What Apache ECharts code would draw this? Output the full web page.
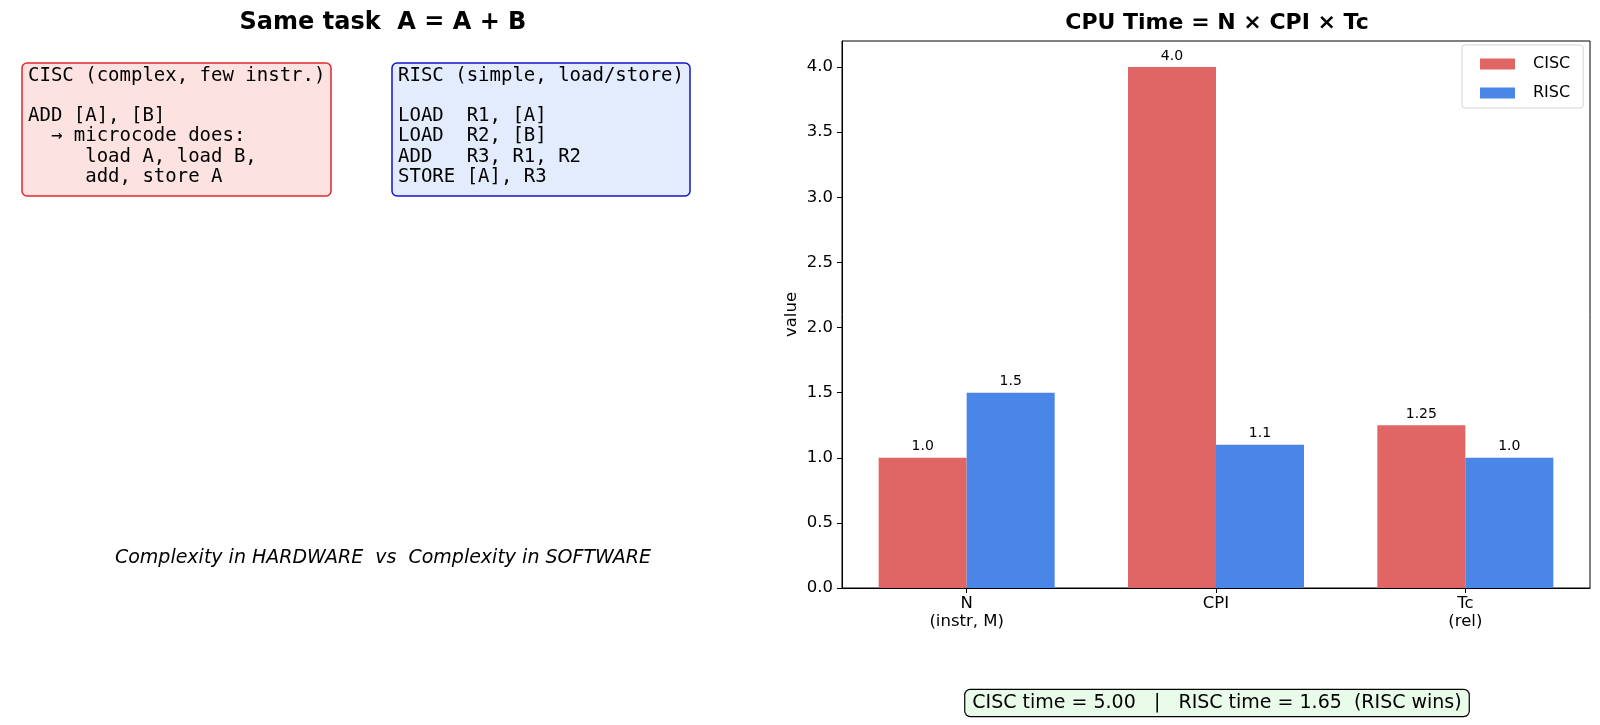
<!DOCTYPE html>
<html>
<head>
<meta charset="utf-8">
<script src="https://cdn.jsdelivr.net/npm/echarts@6/dist/echarts.min.js"></script>
<style>
  html, body { margin: 0; padding: 0; background: #fff; }
  #main { width: 1600px; height: 725px; }
</style>
</head>
<body>
<div id="main"></div>
<script>
const categories = ['N\n(instr, M)', 'CPI', 'Tc\n(rel)'];
const cisc = [1.0, 4.0, 1.25];
const risc = [1.5, 1.1, 1.0];
const yTicks = [0, 0.5, 1.0, 1.5, 2.0, 2.5, 3.0, 3.5, 4.0];

const ciscCode = [
  'CISC (complex, few instr.)',
  '',
  'ADD [A], [B]',
  '  \u2192 microcode does:',
  '     load A, load B,',
  '     add, store A'
];
const riscCode = [
  'RISC (simple, load/store)',
  '',
  'LOAD  R1, [A]',
  'LOAD  R2, [B]',
  'ADD   R3, R1, R2',
  'STORE [A], R3'
];

const font = 'DejaVu Sans';

let chart = echarts.init(document.getElementById('main'));

// total time = N * CPI * Tc
let ciscTime = cisc.reduce((a, b) => a * b, 1);
let riscTime = risc.reduce((a, b) => a * b, 1);
let summary = 'CISC time = ' + ciscTime.toFixed(2) + '   |   RISC time = ' +
  riscTime.toFixed(2) + '  (' + (riscTime < ciscTime ? 'RISC' : 'CISC') + ' wins)';

function fmtVal(v) {
  return Number.isInteger(v) ? v.toFixed(1) : String(v);
}

let barLabel = {
  show: true,
  position: 'top',
  distance: 4,
  fontFamily: font,
  fontSize: 14,
  color: '#000',
  formatter: p => fmtVal(p.value)
};

option = {
  backgroundColor: '#fff',
  animation: false,
  textStyle: { fontFamily: font },
  grid: {
    left: 842,
    top: 41,
    width: 748,
    height: 547,
    show: true,
    borderColor: '#000',
    borderWidth: 1,
    containLabel: false
  },
  legend: {
    data: ['CISC', 'RISC'],
    orient: 'vertical',
    icon: 'rect',
    left: 1462,
    top: 45,
    itemWidth: 35,
    itemHeight: 11,
    itemGap: 13,
    padding: [11, 13, 7, 18],
    backgroundColor: '#fff',
    borderColor: '#d4d4d4',
    borderWidth: 1,
    borderRadius: 3,
    textStyle: {
      fontFamily: font,
      fontSize: 16,
      color: '#000',
      lineHeight: 14,
      padding: [0, 0, 0, 13]
    }
  },
  xAxis: {
    type: 'category',
    data: categories,
    axisLine: { show: true, lineStyle: { color: '#000', width: 1 } },
    axisTick: { show: true, alignWithLabel: true, length: 5, lineStyle: { color: '#000' } },
    axisLabel: {
      color: '#000',
      fontFamily: font,
      fontSize: 16.5,
      lineHeight: 18,
      margin: 7
    },
    splitLine: { show: false }
  },
  yAxis: {
    type: 'value',
    min: 0,
    max: 4.2,
    interval: 0.5,
    name: 'value',
    nameLocation: 'middle',
    nameGap: 42,
    nameTextStyle: { color: '#000', fontFamily: font, fontSize: 16.5 },
    axisLine: { show: true, lineStyle: { color: '#000', width: 1 } },
    axisTick: { show: true, length: 5, lineStyle: { color: '#000' }, customValues: yTicks },
    axisLabel: {
      color: '#000',
      fontFamily: font,
      fontSize: 16.5,
      margin: 9,
      customValues: yTicks,
      formatter: v => v.toFixed(1)
    },
    splitLine: { show: false }
  },
  series: [
    {
      name: 'CISC',
      type: 'bar',
      data: cisc,
      barWidth: 88,
      barGap: '0%',
      itemStyle: { color: '#e06666' },
      label: barLabel
    },
    {
      name: 'RISC',
      type: 'bar',
      data: risc,
      barWidth: 88,
      barGap: '0%',
      itemStyle: { color: '#4a86e8' },
      label: barLabel
    }
  ],
  graphic: [
    {
      type: 'text',
      style: {
        x: 383, y: 23, text: 'Same task  A = A + B',
        font: 'bold 24px "DejaVu Sans"', fill: '#000',
        align: 'center', verticalAlign: 'middle'
      }
    },
    {
      type: 'text',
      style: {
        x: 1217, y: 23, text: 'CPU Time = N \u00d7 CPI \u00d7 Tc',
        font: 'bold 22px "DejaVu Sans"', fill: '#000',
        align: 'center', verticalAlign: 'middle'
      }
    },
    {
      type: 'rect',
      shape: { x: 22, y: 63, width: 309, height: 133, r: 5 },
      style: { fill: '#fde2e2', stroke: '#e02a2a', lineWidth: 1.5 }
    },
    {
      type: 'text',
      style: {
        x: 28, y: 65.5, text: ciscCode.join('\n'),
        font: '19px "DejaVu Sans Mono"', lineHeight: 20.3, fill: '#000',
        align: 'left', verticalAlign: 'top'
      }
    },
    {
      type: 'rect',
      shape: { x: 392, y: 63, width: 298, height: 133, r: 5 },
      style: { fill: '#e3ecfc', stroke: '#1414c8', lineWidth: 1.5 }
    },
    {
      type: 'text',
      style: {
        x: 398, y: 65.5, text: riscCode.join('\n'),
        font: '19px "DejaVu Sans Mono"', lineHeight: 20.3, fill: '#000',
        align: 'left', verticalAlign: 'top'
      }
    },
    {
      type: 'text',
      style: {
        x: 383, y: 558, text: 'Complexity in HARDWARE  vs  Complexity in SOFTWARE',
        font: 'italic 19px "DejaVu Sans"', fill: '#000',
        align: 'center', verticalAlign: 'middle'
      }
    },
    {
      type: 'text',
      style: {
        x: 1217, y: 703, text: summary,
        font: '19px "DejaVu Sans"', fill: '#000',
        align: 'center', verticalAlign: 'middle',
        backgroundColor: '#e9fbe9', borderColor: '#000', borderWidth: 1.2,
        borderRadius: 5, padding: [4, 7, 3, 7]
      }
    }
  ]
};

chart.setOption(option);

window.onresize = function() {
  chart.resize();
}
</script>
</body>
</html>
